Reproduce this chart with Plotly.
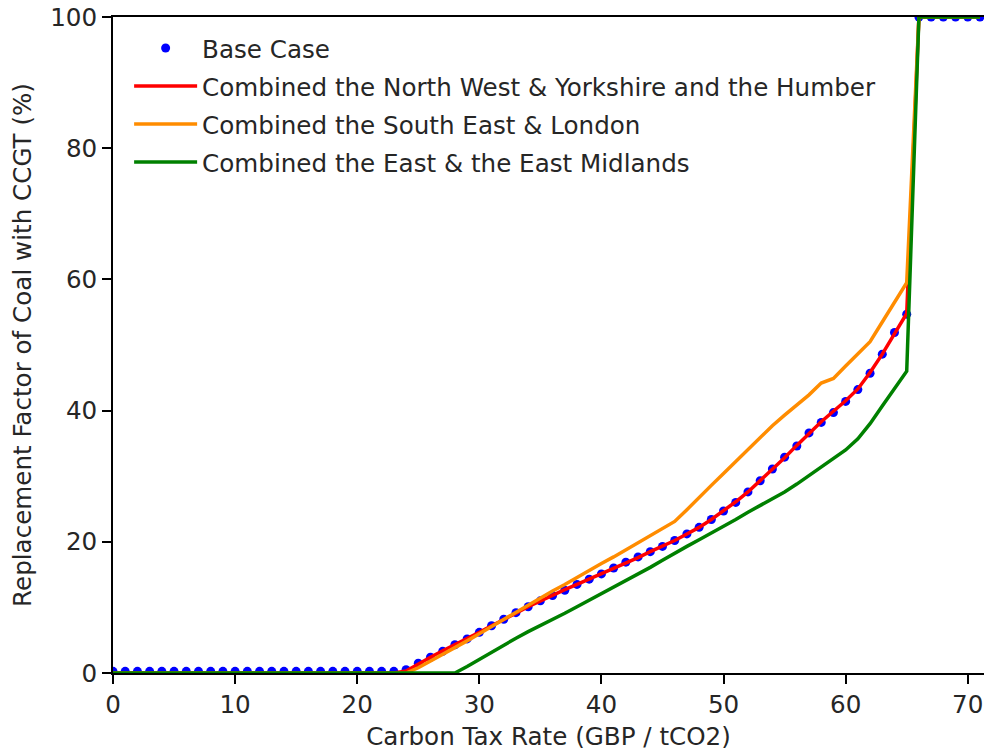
import plotly.graph_objects as go

tax = list(range(0, 72))

base_case = [0.25] * 24 + [
    0.5, 1.5, 2.4, 3.3, 4.3, 5.2, 6.2, 7.2, 8.2, 9.2,            # 24-33
    10.1, 11.0, 11.8, 12.6, 13.5, 14.3, 15.1, 16.0, 16.9, 17.7,  # 34-43
    18.5, 19.3, 20.2, 21.2, 22.2, 23.4, 24.7, 26.0, 27.6, 29.3,  # 44-53
    31.1, 32.9, 34.6, 36.6, 38.2, 39.7, 41.4, 43.2, 45.7, 48.6,  # 54-63
    51.9, 54.7,                                                  # 64-65
] + [100] * 6

north_west_yorkshire = [0.0] * 24 + [
    0.3, 1.4, 2.4, 3.4, 4.3, 5.3, 6.2, 7.2, 8.1, 9.1,            # 24-33
    10.1, 11.0, 11.8, 12.7, 13.5, 14.3, 15.1, 16.0, 16.8, 17.6,  # 34-43
    18.5, 19.3, 20.2, 21.2, 22.2, 23.4, 24.7, 26.1, 27.6, 29.3,  # 44-53
    31.0, 32.8, 34.7, 36.5, 38.3, 39.9, 41.5, 43.3, 45.8, 48.6,  # 54-63
    51.8, 54.8,                                                  # 64-65
] + [100] * 6

south_east_london = [0.0] * 25 + [
    0.8, 1.8, 2.8, 3.9, 4.9, 6.0, 7.1, 8.2, 9.3,                 # 25-33
    10.4, 11.5, 12.5, 13.5, 14.6, 15.6, 16.7, 17.7, 18.8, 19.9,  # 34-43
    21.0, 22.0, 23.1, 24.9, 26.8, 28.6, 30.4, 32.2, 34.1, 35.9,  # 44-53
    37.7, 39.3, 40.8, 42.4, 44.2, 44.9, 46.8, 48.6, 50.5, 53.5,  # 54-63
    56.5, 59.5,                                                  # 64-65
] + [100] * 6

east_midlands = [0.0] * 29 + [
    1.0, 2.1, 3.2, 4.2, 5.3,                                     # 29-33
    6.3, 7.2, 8.1, 9.1, 10.1, 11.1, 12.1, 13.0, 14.0, 15.0,      # 34-43
    16.1, 17.2, 18.3, 19.3, 20.3, 21.3, 22.3, 23.4, 24.5, 25.5,  # 44-53
    26.5, 27.6, 28.8, 30.1, 31.4, 32.7, 34.0, 35.7, 38.0, 40.7,  # 54-63
    43.3, 46.0,                                                  # 64-65
] + [100] * 6

labels = [
    "Base Case",
    "Combined the North West & Yorkshire and the Humber",
    "Combined the South East & London",
    "Combined the East & the East Midlands",
]

font_family = "DejaVu Sans"
fs = 24.6

fig = go.Figure()
fig.add_trace(go.Scatter(x=tax, y=base_case, mode="markers", name=labels[0],
                         marker=dict(color="#0000ff", size=9), legendgroup="a"))
fig.add_trace(go.Scatter(x=tax, y=north_west_yorkshire, mode="lines", name=labels[1],
                         line=dict(color="#ff0000", width=3.5), legendgroup="b"))
fig.add_trace(go.Scatter(x=tax, y=south_east_london, mode="lines", name=labels[2],
                         line=dict(color="#ff8c00", width=3.5), legendgroup="c"))
fig.add_trace(go.Scatter(x=tax, y=east_midlands, mode="lines", name=labels[3],
                         line=dict(color="#008000", width=3.5), legendgroup="d"))

fig.update_layout(
    width=984, height=751,
    margin=dict(l=113, r=0, t=17, b=78),
    paper_bgcolor="white", plot_bgcolor="white",
    font=dict(family=font_family, size=fs, color="#262626"),
    showlegend=True,
    legend=dict(x=0.0185, y=0.987, xanchor="left", yanchor="top",
                bgcolor="rgba(255,255,255,0)", font=dict(size=fs, color="#262626"),
                itemwidth=63, tracegroupgap=3),
    xaxis=dict(range=[0, 71.33], tickvals=[0, 10, 20, 30, 40, 50, 60, 70],
               showgrid=False, zeroline=False, showline=True, linecolor="black",
               linewidth=1.8, mirror=True, ticks="outside", ticklen=9, tickwidth=1.8,
               tickcolor="black", tickfont=dict(size=fs),
               title=dict(text="Carbon Tax Rate (GBP / tCO2)", font=dict(size=fs), standoff=10)),
    yaxis=dict(range=[0, 100], tickvals=[0, 20, 40, 60, 80, 100],
               showgrid=False, zeroline=False, showline=True, linecolor="black",
               linewidth=1.8, ticks="outside", ticklen=9, tickwidth=1.8,
               tickcolor="black", tickfont=dict(size=fs),
               title=dict(text="Replacement Factor of Coal with CCGT (%)", font=dict(size=fs), standoff=12)),
)

fig.write_html("out.html")
